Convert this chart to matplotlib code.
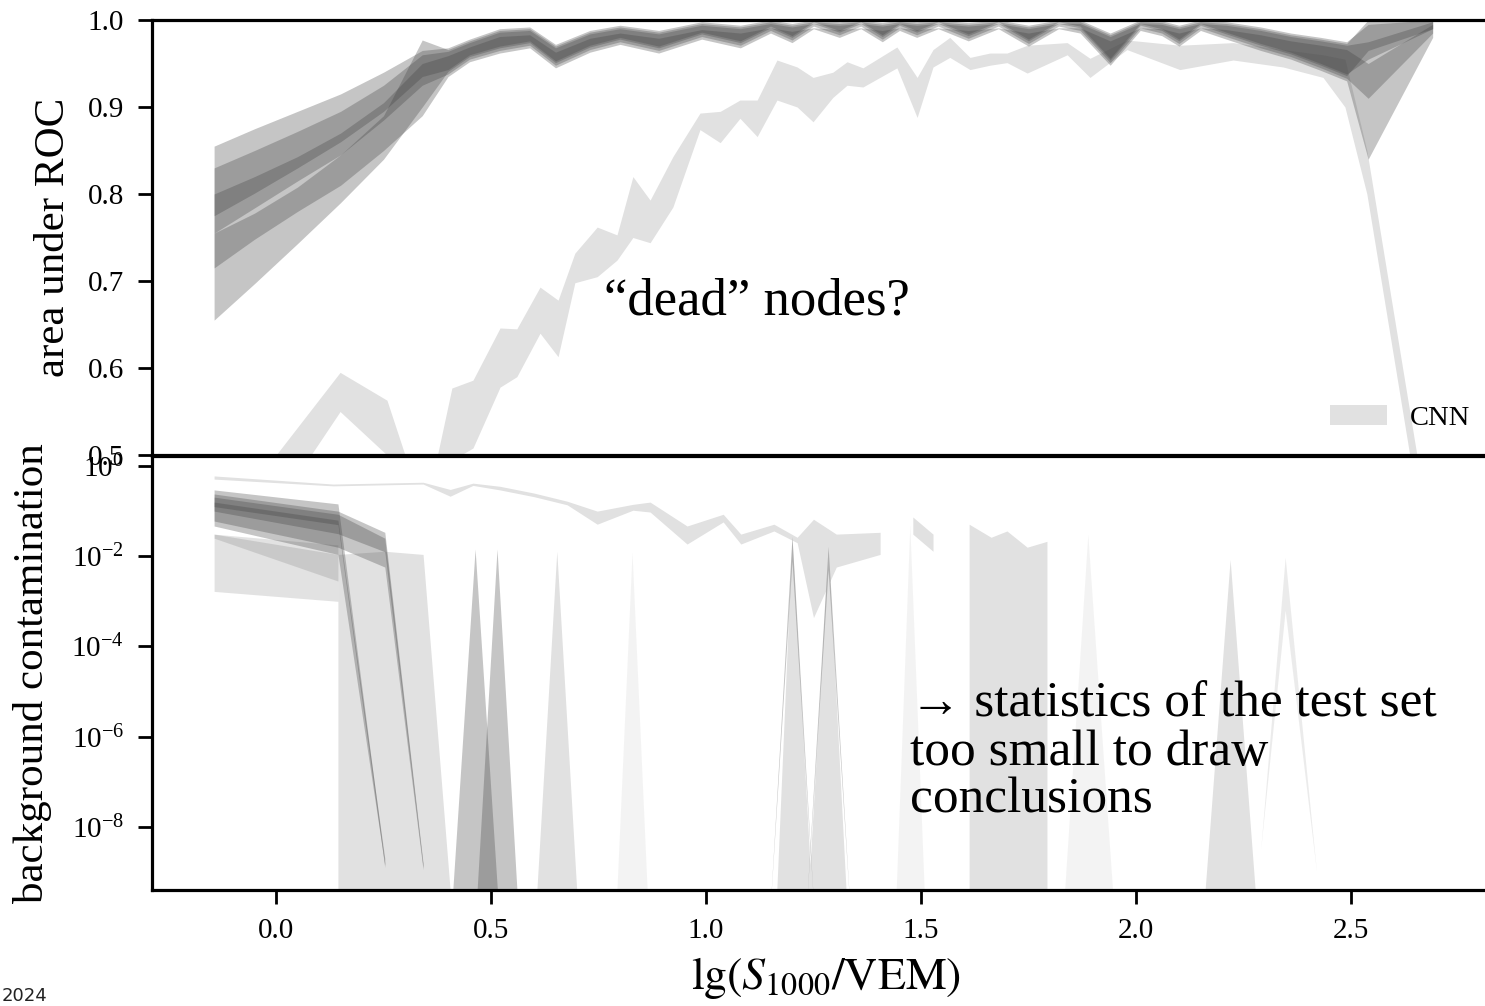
import numpy as np
import matplotlib
matplotlib.use('Agg')
import matplotlib.pyplot as plt
from matplotlib.ticker import FixedLocator, NullLocator

plt.rcParams['font.family'] = 'serif'
plt.rcParams['font.serif'] = ['Liberation Serif', 'DejaVu Serif']
plt.rcParams['mathtext.fontset'] = 'stix'

#---------------- top panel: area under ROC ----------------
x_top = [-0.144, -0.05, 0.05, 0.15, 0.25, 0.34, 0.40, 0.45, 0.52, 0.59, 0.65, 0.73, 0.80, 0.89,
         0.99, 1.08, 1.15, 1.20, 1.25, 1.31, 1.36, 1.41, 1.45, 1.49, 1.54, 1.61, 1.68, 1.75,
         1.82, 1.87, 1.94, 2.01, 2.06, 2.10, 2.15, 2.21, 2.29, 2.36, 2.43, 2.49, 2.54, 2.69]

auc1_lo = [.775, .801, .83, .86, .895, .935, .943, .960, .970, .976, .953, .971, .980, .970,
           .986, .976, .993, .982, .998, .988, .998, .983, .996, .988, .998, .984, .998, .978,
           .998, .993, .956, .996, .990, .978, .996, .986, .973, .963, .950, .938, .955, .990]
auc1_hi = [.855, .875, .895, .915, .94, .965, .968, .978, .990, .992, .972, .988, .994, .988,
           .998, .994, 1.0, .996, 1.0, .998, 1.0, .997, 1.0, .998, 1.0, .997, 1.0, .994,
           1.0, 1.0, .985, 1.0, .999, .994, 1.0, .998, .992, .985, .980, .975, .995, 1.0]
auc2_lo = [.755, .784, .815, .845, .885, .925, .938, .955, .965, .971, .948, .966, .975, .965,
           .981, .971, .988, .977, .993, .983, .993, .978, .991, .983, .993, .979, .993, .973,
           .993, .988, .951, .991, .985, .973, .991, .981, .968, .958, .945, .933, .91, .985]
auc2_hi = [.83, .85, .872, .895, .925, .96, .964, .974, .986, .988, .968, .984, .990, .984,
           .994, .990, .996, .992, .996, .994, .996, .993, .996, .994, .996, .993, .996, .990,
           .996, .996, .981, .996, .995, .990, .996, .994, .988, .981, .976, .971, .975, .998]
auc3_lo = [.715, .748, .78, .81, .85, .89, .935, .952, .962, .968, .945, .963, .972, .962,
           .978, .968, .985, .974, .990, .980, .990, .975, .988, .980, .990, .976, .990, .970,
           .990, .985, .948, .988, .982, .970, .988, .978, .965, .955, .942, .930, .84, .98]
auc3_hi = [.80, .82, .843, .87, .905, .95, .959, .969, .981, .983, .963, .979, .985, .979,
           .989, .985, .991, .987, .991, .989, .991, .988, .991, .989, .991, .988, .991, .985,
           .991, .991, .976, .991, .990, .985, .991, .989, .983, .976, .971, .966, .95, .995]
auc4_lo = [.655, .697, .743, .79, .84, .90, .941, .958, .968, .974, .951, .969, .978, .968,
           .984, .974, .991, .980, .996, .986, .996, .981, .994, .986, .996, .982, .996, .976,
           .996, .991, .954, .994, .988, .976, .994, .984, .971, .961, .948, .936, .965, .99]
auc4_hi = [.755, .778, .808, .845, .89, .977, .966, .976, .988, .990, .970, .986, .992, .986,
           .996, .992, .998, .994, .998, .996, .998, .995, .998, .996, .998, .995, .998, .992,
           .998, .998, .983, .998, .997, .992, .998, .996, .990, .983, .978, .973, 1.0, 1.0]

x_cnn_auc = [-0.144, 0.0, 0.149, 0.258, 0.30, 0.358, 0.409, 0.458, 0.521, 0.56, 0.614, 0.656,
             0.695, 0.747, 0.793, 0.83, 0.87, 0.923, 0.986, 1.033, 1.079, 1.119, 1.165, 1.212,
             1.249, 1.295, 1.328, 1.365, 1.444, 1.491, 1.528, 1.567, 1.614, 1.66, 1.70, 1.747,
             1.84, 1.893, 1.979, 2.102, 2.226, 2.342, 2.435, 2.486, 2.537, 2.66, 2.69]
cnn_auc_hi = [0.40, 0.50, 0.595, 0.563, 0.50, 0.46, 0.577, 0.586, 0.646, 0.645, 0.693, 0.678,
              0.732, 0.762, 0.753, 0.820, 0.793, 0.843, 0.893, 0.895, 0.908, 0.908, 0.954, 0.946,
              0.934, 0.94, 0.952, 0.945, 0.969, 0.934, 0.966, 0.98, 0.957, 0.962, 0.962, 0.971,
              0.974, 0.956, 0.977, 0.971, 0.974, 0.966, 0.96, 0.955, 0.85, 0.48, 0.46]
cnn_auc_lo = [0.35, 0.44, 0.55, 0.50, 0.455, 0.40, 0.494, 0.508, 0.578, 0.590, 0.640, 0.613,
              0.698, 0.705, 0.724, 0.75, 0.744, 0.785, 0.874, 0.859, 0.887, 0.866, 0.908, 0.90,
              0.883, 0.911, 0.925, 0.923, 0.945, 0.888, 0.946, 0.957, 0.943, 0.948, 0.951, 0.939,
              0.96, 0.934, 0.966, 0.943, 0.954, 0.946, 0.934, 0.90, 0.80, 0.43, 0.41]

#---------------- bottom panel: background contamination (log10) ----------------
FLOOR = -10.0

x_cnn_bg = [-0.144, 0.133, 0.342, 0.405, 0.458, 0.521, 0.60, 0.677, 0.747, 0.83, 0.87, 0.956,
            1.04, 1.081, 1.158, 1.212, 1.25, 1.303, 1.405]
cnn_bg_hi = [-0.22, -0.40, -0.36, -0.52, -0.38, -0.45, -0.6, -0.78, -1.0, -0.85, -0.80, -1.33,
             -1.07, -1.51, -1.29, -1.58, -1.18, -1.51, -1.47]
cnn_bg_lo = [-0.29, -0.44, -0.40, -0.67, -0.43, -0.53, -0.68, -0.86, -1.29, -0.98, -1.02, -1.73,
             -1.24, -1.73, -1.44, -1.70, -3.36, -2.24, -1.96]
x_cnn_bg2 = [1.481, 1.528]
cnn_bg2_hi = [-1.13, -1.51]
cnn_bg2_lo = [-1.51, -1.89]
x_cnn_bg3 = [1.612, 1.663, 1.70, 1.747, 1.793]
cnn_bg3_hi = [-1.29, -1.58, -1.44, -1.80, -1.67]

# dark models, low energies
x_bg1 = [-0.144, 0.144, 0.253]
bg1_hi = [-0.53, -0.84, -8.8]
bg1_lo = [-0.90, -1.30, -8.9]
x_bg2 = [-0.144, 0.144, 0.253, 0.342]
bg2_hi = [-0.62, -1.00, -1.47, -8.8]
bg2_lo = [-1.00, -1.50, -1.90, -8.9]
x_bg3 = [-0.144, 0.144, 0.253, 0.342]
bg3_hi = [-0.69, -1.07, -1.60, -8.85]
bg3_lo = [-1.22, -1.80, -2.24, -8.95]
x_bg4 = [-0.144, 0.144, 0.253]
bg4_hi = [-0.80, -1.20, -8.7]
bg4_lo = [-1.33, -1.96, -8.85]

# light wedges / blocks
x_wedge = [-0.144, 0.144]
wedge_hi = [-1.51, -1.96]
wedge_lo = [-2.78, -3.00]
wedge2_hi = [-1.51, -1.75]
wedge2_lo = [-1.60, -2.55]
x_block = [0.144, 0.253, 0.342, 0.41]
block_hi = [-1.96, -1.89, -1.96, FLOOR]

# single-bin spikes
x_sp1 = [0.407, 0.463, 0.519]; sp1_hi = [FLOOR, -1.84, FLOOR]
x_sp2 = [0.464, 0.514, 0.564]; sp2_hi = [FLOOR, -1.84, FLOOR]
x_sp3 = [0.603, 0.653, 0.703]; sp3_hi = [FLOOR, -1.89, FLOOR]
x_sp4 = [0.79, 0.828, 0.866]; sp4_hi = [FLOOR, -1.90, FLOOR]
x_sp5 = [1.162, 1.2, 1.242, 1.284, 1.329]; sp5_hi = [FLOOR, -1.56, -8.84, -1.78, FLOOR]
x_ds1 = [1.148, 1.2, 1.252]; ds1_hi = [FLOOR, -1.56, FLOOR]; ds1_lo = [FLOOR, -2.1, FLOOR]
x_ds2 = [1.232, 1.284, 1.336]; ds2_hi = [FLOOR, -1.78, FLOOR]; ds2_lo = [FLOOR, -2.3, FLOOR]
x_sf1 = [1.44, 1.474, 1.51]; sf1_hi = [FLOOR, -1.30, FLOOR]
x_sf2 = [1.83, 1.888, 1.95]; sf2_hi = [FLOOR, -1.51, FLOOR]
x_sp7 = [2.156, 2.219, 2.282]; sp7_hi = [FLOOR, -2.07, FLOOR]
x_sp8 = [2.29, 2.347, 2.42]; sp8_hi = [-8.5, -2.02, -9.0]; sp8_lo = [-8.5, -3.2, -9.0]

CNN_COLOR = '#e1e1e1'
DARK = '0.25'

def p(a):
    return np.power(10.0, np.asarray(a, dtype=float))

fig = plt.figure(figsize=(14.85, 10.06), dpi=100)
ax_top = fig.add_axes([0.10236, 0.54771, 0.9077, 0.43241])
ax_bot = fig.add_axes([0.10236, 0.11531, 0.9077, 0.43141])

# top panel
ax_top.fill_between(x_cnn_auc, cnn_auc_lo, cnn_auc_hi, color=CNN_COLOR, lw=0, label='CNN', zorder=1)
for lo, hi in [(auc1_lo, auc1_hi), (auc2_lo, auc2_hi), (auc3_lo, auc3_hi), (auc4_lo, auc4_hi)]:
    ax_top.fill_between(x_top, lo, hi, color=DARK, alpha=0.3, lw=0, zorder=2)

ax_top.set_xlim(-0.2884, 2.8465)
ax_top.set_ylim(0.5, 1.0)
ax_top.set_yticks([0.5, 0.6, 0.7, 0.8, 0.9, 1.0])
ax_top.set_yticklabels(['0.5', '0.6', '0.7', '0.8', '0.9', '1.0'])
ax_top.tick_params(axis='x', which='both', bottom=False, labelbottom=False)
ax_top.set_ylabel('area under ROC', fontsize=31, labelpad=11)
ax_top.text(0.763, 0.661, '\u201cdead\u201d nodes?', fontsize=38)
ax_top.legend(loc='lower right', frameon=False, fontsize=20.5, handlelength=2.0,
              handleheight=0.7, bbox_to_anchor=(0.986, 0.03), borderaxespad=0)

# bottom panel
light = dict(color=CNN_COLOR, lw=0, zorder=1)
ax_bot.fill_between(x_cnn_bg, p(cnn_bg_lo), p(cnn_bg_hi), **light)
ax_bot.fill_between(x_cnn_bg2, p(cnn_bg2_lo), p(cnn_bg2_hi), **light)
ax_bot.fill_between(x_cnn_bg3, p([FLOOR] * len(x_cnn_bg3)), p(cnn_bg3_hi), **light)
ax_bot.fill_between(x_block, p([FLOOR] * len(x_block)), p(block_hi), **light)
ax_bot.fill_between(x_sp3, p([FLOOR] * 3), p(sp3_hi), **light)
ax_bot.fill_between(x_sp5, p([FLOOR] * 5), p(sp5_hi), **light)
ax_bot.fill_between(x_sp7, p([FLOOR] * 3), p(sp7_hi), **light)
ax_bot.fill_between(x_wedge, p(wedge_lo), p(wedge_hi), color=DARK, alpha=0.15, lw=0, zorder=1)
ax_bot.fill_between(x_wedge, p(wedge2_lo), p(wedge2_hi), color=DARK, alpha=0.15, lw=0, zorder=1)
ax_bot.fill_between(x_sp8, p(sp8_lo), p(sp8_hi), color=DARK, alpha=0.1, lw=0, zorder=1)
for xs, hi in [(x_sp4, sp4_hi), (x_sf1, sf1_hi), (x_sf2, sf2_hi)]:
    ax_bot.fill_between(xs, p([FLOOR] * len(xs)), p(hi), color=DARK, alpha=0.06, lw=0, zorder=1)

for xs, lo, hi in [(x_bg1, bg1_lo, bg1_hi), (x_bg2, bg2_lo, bg2_hi), (x_bg3, bg3_lo, bg3_hi),
                   (x_bg4, bg4_lo, bg4_hi), (x_sp1, [FLOOR] * 3, sp1_hi),
                   (x_sp2, [FLOOR] * 3, sp2_hi), (x_ds1, ds1_lo, ds1_hi), (x_ds2, ds2_lo, ds2_hi)]:
    ax_bot.fill_between(xs, p(lo), p(hi), color=DARK, alpha=0.3, lw=0, zorder=2)

ax_bot.set_yscale('log')
ax_bot.set_xlim(-0.2884, 2.8465)
ax_bot.set_ylim(10 ** -9.4, 10 ** 0.222)
ax_bot.yaxis.set_major_locator(FixedLocator([1e0, 1e-2, 1e-4, 1e-6, 1e-8]))
ax_bot.yaxis.set_minor_locator(NullLocator())
ax_bot.set_xticks([0.0, 0.5, 1.0, 1.5, 2.0, 2.5])
ax_bot.set_xticklabels(['0.0', '0.5', '1.0', '1.5', '2.0', '2.5'])
ax_bot.set_ylabel('background contamination', fontsize=31, labelpad=14)
ax_bot.set_xlabel(r'$\mathrm{lg}(S_{1000}/\mathrm{VEM})$', fontsize=33, labelpad=8)
ax_bot.text(1.474, 10 ** -7.69, '\u2192 statistics of the test set\ntoo small to draw\nconclusions',
            fontsize=37, linespacing=1.05, va='baseline')

for ax in (ax_top, ax_bot):
    ax.spines['right'].set_visible(False)
    for s in ('top', 'left', 'bottom'):
        ax.spines[s].set_linewidth(2.3)
    ax.tick_params(which='major', direction='out', length=10, width=2, labelsize=21, pad=10)
    ax.set_facecolor('white')

fig.text(0.001, 0.001, '2024', fontsize=13, family='DejaVu Sans', va='bottom', color='#222222')

fig.savefig('out.png', dpi=100)
